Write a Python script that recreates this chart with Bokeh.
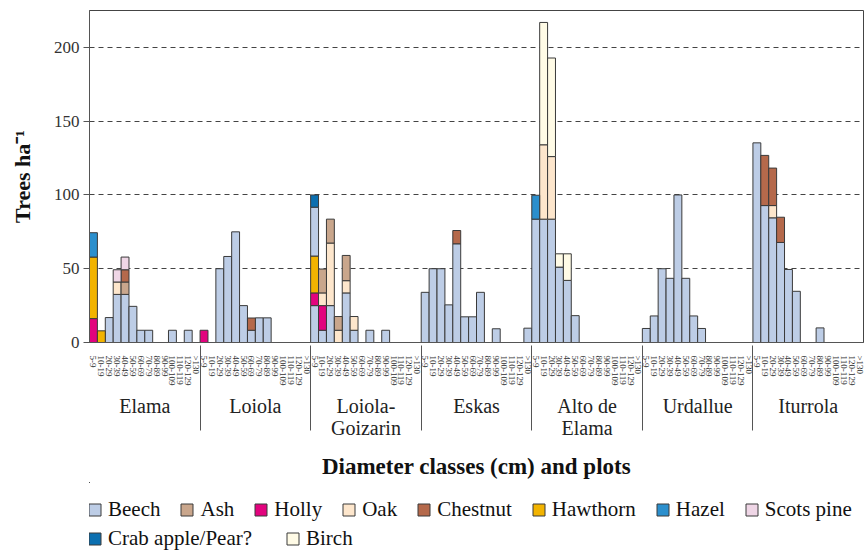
from bokeh.plotting import figure
from bokeh.layouts import column
from bokeh.models import FactorRange, Range1d, FixedTicker, Legend, LegendItem
from bokeh.embed import file_html
from bokeh.resources import INLINE

plots = ["Elama", "Loiola", "Loiola-\nGoizarin", "Eskas", "Alto de\nElama", "Urdallue", "Iturrola"]
classes = ["5-9", "10-19", "20-29", "30-39", "40-49", "50-59", "60-69",
           "70-79", "80-89", "90-99", "100-109", "110-119", "120-129", ">130"]
yticks = [0, 50, 100, 150, 200]

Z = [0] * 14
# one row of 14 diameter classes per plot (Elama ... Iturrola), trees/ha
beech = [
    [0, 0, 16.9, 32.6, 32.6, 24.5, 8.3, 8.3, 0, 0, 8.3, 0, 8.3, 0],
    [0, 0, 50, 58.3, 75, 25, 8.3, 16.7, 16.7, 0, 0, 0, 0, 0],
    [25, 8.3, 25, 0, 33.6, 8.3, 0, 8.3, 0, 8.3, 0, 0, 0, 0],
    [34, 50, 50, 25.5, 66.9, 17.4, 17.4, 34, 0, 9.3, 0, 0, 0, 9.7],
    [83.6, 83.6, 83.6, 51.1, 42.1, 18.2, 0, 0, 0, 0, 0, 0, 0, 0],
    [9.5, 18, 50, 43.5, 100, 43.5, 18, 9.5, 0, 0, 0, 0, 0, 0],
    [135.3, 92.8, 84.5, 67.8, 49.5, 34.7, 0, 0, 9.9, 0, 0, 0, 0, 0],
]
holly = [
    [16.2, 0, 0, 0, 0, 0, 0, 0, 0, 0, 0, 0, 0, 0],
    [8.3, 0, 0, 0, 0, 0, 0, 0, 0, 0, 0, 0, 0, 0],
    [8.6, 16.7, 0, 0, 0, 0, 0, 0, 0, 0, 0, 0, 0, 0],
    Z, Z, Z, Z,
]
hawthorn = [
    [41.7, 7.9, 0, 0, 0, 0, 0, 0, 0, 0, 0, 0, 0, 0],
    Z,
    [25, 0, 0, 0, 0, 0, 0, 0, 0, 0, 0, 0, 0, 0],
    Z, Z, Z, Z,
]
beech_upper = [
    Z, Z,
    [33.1, 0, 0, 0, 0, 0, 0, 0, 0, 0, 0, 0, 0, 0],
    Z, Z, Z, Z,
]
oak = [
    [0, 0, 0, 8.4, 0, 0, 0, 0, 0, 0, 0, 0, 0, 0],
    Z,
    [0, 8.6, 42.4, 8.3, 8.3, 9.3, 0, 0, 0, 0, 0, 0, 0, 0],
    Z,
    [0, 50.4, 42.4, 0, 0, 0, 0, 0, 0, 0, 0, 0, 0, 0],
    Z,
    [0, 0, 8.3, 0, 0, 0, 0, 0, 0, 0, 0, 0, 0, 0],
]
ash = [
    [0, 0, 0, 0, 8.4, 0, 0, 0, 0, 0, 0, 0, 0, 0],
    Z,
    [0, 16.2, 16.2, 9.3, 17.1, 0, 0, 0, 0, 0, 0, 0, 0, 0],
    Z, Z, Z, Z,
]
chestnut = [
    [0, 0, 0, 0, 8.3, 0, 0, 0, 0, 0, 0, 0, 0, 0],
    [0, 0, 0, 0, 0, 0, 8.3, 0, 0, 0, 0, 0, 0, 0],
    Z,
    [0, 0, 0, 0, 9.0, 0, 0, 0, 0, 0, 0, 0, 0, 0],
    Z, Z,
    [0, 34, 25.4, 17.1, 0, 0, 0, 0, 0, 0, 0, 0, 0, 0],
]
scots_pine = [
    [0, 0, 0, 8.3, 8.6, 0, 0, 0, 0, 0, 0, 0, 0, 0],
    Z, Z, Z, Z, Z, Z,
]
hazel = [
    [16.5, 0, 0, 0, 0, 0, 0, 0, 0, 0, 0, 0, 0, 0],
    Z, Z, Z,
    [16.2, 0, 0, 0, 0, 0, 0, 0, 0, 0, 0, 0, 0, 0],
    Z, Z,
]
crab_apple = [
    Z, Z,
    [8.3, 0, 0, 0, 0, 0, 0, 0, 0, 0, 0, 0, 0, 0],
    Z, Z, Z, Z,
]
birch = [
    Z, Z, Z, Z,
    [0, 82.9, 66.8, 9.0, 18.0, 0, 0, 0, 0, 0, 0, 0, 0, 0],
    Z, Z,
]

colors = {
    "Beech": "#bdcde6", "Ash": "#c9a68c", "Holly": "#e2037e", "Oak": "#fde6cc",
    "Chestnut": "#b5694b", "Hawthorn": "#f2b300", "Hazel": "#2b8fcd",
    "Scots pine": "#efd6e6", "Crab apple/Pear?": "#0b6fb0", "Birch": "#fffbe6",
}
# bottom-to-top stacking order
stack = [
    ("Beech", beech), ("Holly", holly), ("Hawthorn", hawthorn), ("Beech ", beech_upper),
    ("Oak", oak), ("Ash", ash), ("Chestnut", chestnut), ("Scots pine", scots_pine),
    ("Hazel", hazel), ("Crab apple/Pear?", crab_apple), ("Birch", birch),
]
legend_rows = [
    ["Beech", "Ash", "Holly", "Oak", "Chestnut", "Hawthorn", "Hazel", "Scots pine"],
    ["Crab apple/Pear?", "Birch"],
]

FONT = "Liberation Serif"
EDGE = "#3a3a3a"
factors = [(pl, c) for pl in plots for c in classes]

p = figure(x_range=FactorRange(*factors, group_padding=0, factor_padding=0, range_padding=0),
           y_range=Range1d(0, 225),
           frame_width=774, frame_height=332,
           min_border_left=89, min_border_right=2, min_border_top=10, min_border_bottom=140,
           output_backend="svg", toolbar_location=None)

cum = [0.0] * len(factors)
for name, rows in stack:
    vals = [v for row in rows for v in row]
    xs, bots, tops = [], [], []
    for i, v in enumerate(vals):
        if v > 0:
            xs.append(factors[i]); bots.append(cum[i]); tops.append(cum[i] + v)
            cum[i] += v
    p.vbar(x=xs, bottom=bots, top=tops, width=1,
           fill_color=colors[name.strip()], line_color=EDGE, line_width=1)

p.xgrid.visible = False
p.ygrid.ticker = FixedTicker(ticks=yticks)
p.ygrid.grid_line_color = "#444444"
p.ygrid.grid_line_dash = "5 4"
p.ygrid.grid_line_width = 1
p.ygrid.level = "underlay"
p.outline_line_color = "#444444"

ya = p.yaxis[0]
ya.ticker = FixedTicker(ticks=yticks, minor_ticks=[])
ya.major_tick_out = 6
ya.major_tick_in = 0
ya.axis_line_color = "#555555"
ya.major_tick_line_color = "#555555"
ya.major_label_text_font = FONT
ya.major_label_text_font_size = "17px"
ya.major_label_text_color = "#333333"
ya.major_label_standoff = 4
ya.axis_label = "Trees ha\u207b\u00b9"
ya.axis_label_text_font = FONT
ya.axis_label_text_font_size = "22px"
ya.axis_label_text_font_style = "bold"
ya.axis_label_text_color = "#111111"
ya.axis_label_standoff = 16

xa = p.xaxis[0]
xa.axis_line_color = "#555555"
xa.major_tick_line_color = None
xa.major_label_orientation = "vertical"
xa.major_label_text_font = FONT
xa.major_label_text_font_size = "9px"
xa.major_label_text_color = "#333333"
xa.major_label_standoff = 7
xa.group_text_font = FONT
xa.group_text_font_size = "20px"
xa.group_text_line_height = 1.0
xa.group_text_font_style = "normal"
xa.group_text_color = "#222222"
xa.separator_line_color = "#555555"
xa.separator_line_width = 1
xa.axis_label = "Diameter classes (cm) and plots"
xa.axis_label_text_font = FONT
xa.axis_label_text_font_size = "23px"
xa.axis_label_text_font_style = "bold"
xa.axis_label_text_color = "#111111"
xa.axis_label_standoff = 12

# legend strip below the chart (swatch renderers sit outside its visible range)
lg = figure(width=865, height=69, x_range=Range1d(0, 1), y_range=Range1d(0, 1),
            x_axis_type=None, y_axis_type=None, min_border=0,
            output_backend="svg", toolbar_location=None)
lg.outline_line_color = None
lg.grid.visible = False
swatch = {n: lg.vbar(x=[-50], bottom=[50], top=[51], width=1, fill_color=c,
                     line_color=EDGE, line_width=1)
          for n, c in colors.items()}
for row, ypos, gap in zip(legend_rows, [29, 0], [19, 33]):
    leg = Legend(items=[LegendItem(label=n, renderers=[swatch[n]]) for n in row],
                 orientation="horizontal", location=(-2, ypos),
                 glyph_width=15, glyph_height=15, label_standoff=6, spacing=gap,
                 padding=0, margin=0, border_line_color=None, background_fill_alpha=0,
                 label_text_font=FONT, label_text_font_size="21px", label_text_color="#111111")
    lg.add_layout(leg, "center")

open("out.html", "w").write(file_html(column(p, lg, spacing=0), INLINE))
